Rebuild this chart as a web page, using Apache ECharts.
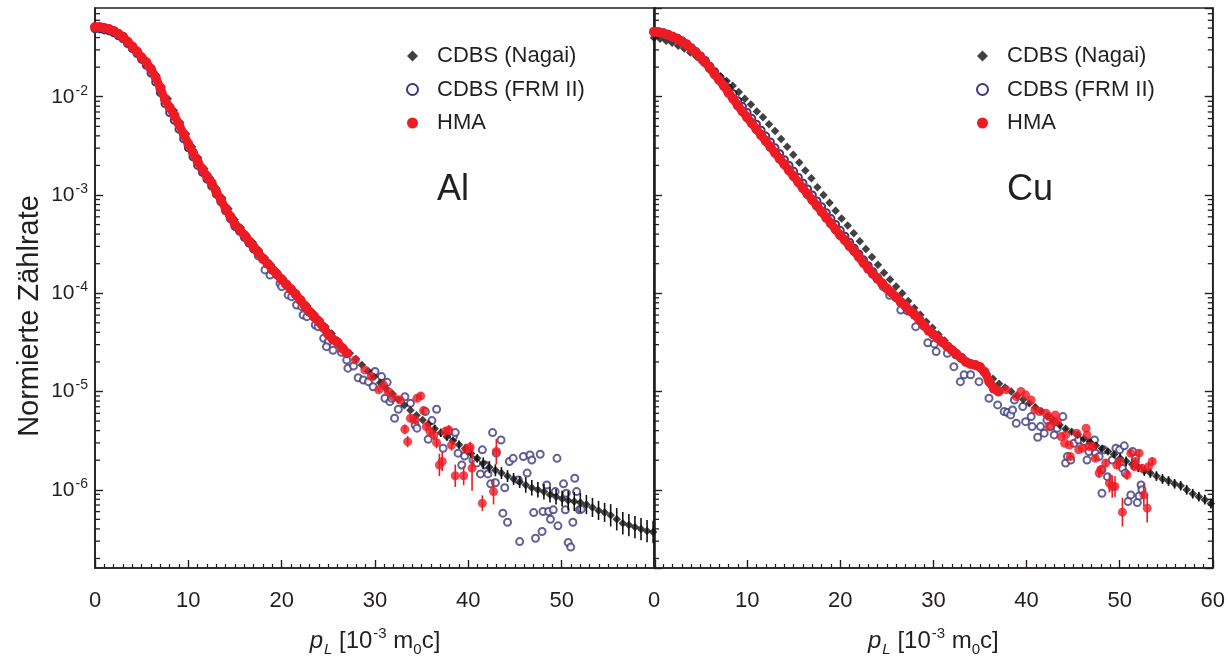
<!DOCTYPE html>
<html><head><meta charset="utf-8">
<script src="https://cdn.jsdelivr.net/npm/echarts@6/dist/echarts.min.js"></script>
<style>html,body{margin:0;padding:0;background:#fff}#c{width:1228px;height:666px}</style>
</head><body><div id="c"></div>
<script>
// ---------------- DATA ----------------
const panelNames = ['Al', 'Cu'];
const seriesNames = ['CDBS (Nagai)', 'CDBS (FRM II)', 'HMA'];
const xTicks = [0, 10, 20, 30, 40, 50, 60];
const yMinorTicks = [2e-7,3e-7,4e-7,5e-7,6e-7,7e-7,8e-7,9e-7,
  2e-6,3e-6,4e-6,5e-6,6e-6,7e-6,8e-6,9e-6,
  2e-5,3e-5,4e-5,5e-5,6e-5,7e-5,8e-5,9e-5,
  2e-4,3e-4,4e-4,5e-4,6e-4,7e-4,8e-4,9e-4,
  2e-3,3e-3,4e-3,5e-3,6e-3,7e-3,8e-3,9e-3,
  2e-2,3e-2,4e-2,5e-2,6e-2,7e-2];

// CDBS (Nagai): one point every nagaiStep in p_L
const nagaiStep = 0.65;
const alNagai = [
5.01e-2,4.90e-2,4.79e-2,4.47e-2,4.17e-2,3.80e-2,3.31e-2,2.88e-2,2.45e-2,2.09e-2,
1.66e-2,1.26e-2,9.55e-3,7.24e-3,5.50e-3,4.17e-3,3.09e-3,2.40e-3,1.86e-3,1.48e-3,
1.17e-3,9.33e-4,7.24e-4,5.62e-4,4.68e-4,3.89e-4,3.31e-4,2.75e-4,2.29e-4,1.95e-4,
1.66e-4,1.41e-4,1.20e-4,1.02e-4,8.71e-5,7.41e-5,6.31e-5,5.37e-5,4.57e-5,3.89e-5,
3.31e-5,2.82e-5,2.45e-5,2.14e-5,1.86e-5,1.62e-5,1.41e-5,1.23e-5,1.07e-5,9.55e-6,
8.32e-6,7.24e-6,6.46e-6,5.75e-6,5.13e-6,4.68e-6,4.17e-6,3.80e-6,3.47e-6,3.16e-6,
2.88e-6,2.63e-6,2.34e-6,2.09e-6,1.86e-6,1.70e-6,1.58e-6,1.48e-6,1.38e-6,1.29e-6,
1.20e-6,1.12e-6,1.05e-6,1.00e-6,9.55e-7,8.91e-7,8.51e-7,8.13e-7,7.76e-7,7.59e-7,
7.41e-7,7.08e-7,6.61e-7,6.17e-7,5.89e-7,5.50e-7,5.01e-7,4.57e-7,4.37e-7,4.17e-7,
3.98e-7,3.80e-7,3.72e-7];
// relative error (bar from v/(1+e) to v*(1+e))
const alNagaiErr = [
0,0,0,0,0,0,0,0,0,0, 0,0,0,0,0,0,0,0,0,0, 0,0,0,0,0,0,0,0,0,0,
0,0,0,0,0,0,0,0,0,0, 0,0,0,0,0,0,0,0,0,0, 0,0,0,0,0,0,
0.1,0.1,0.1,0.1,0.1,0.1,0.1,0.1,
0.15,0.15,0.15,0.15,0.15,0.15,0.15,
0.2,0.2,0.2,0.2,0.2,0.2,0.2,
0.25,0.25,0.25,0.25,0.25,0.25,0.25,
0.3,0.3,0.3,0.3,0.3,0.3,0.3,0.3];
const cuNagai = [
3.98e-2,3.89e-2,3.72e-2,3.55e-2,3.31e-2,3.09e-2,2.82e-2,2.57e-2,2.24e-2,2.04e-2,
1.82e-2,1.62e-2,1.45e-2,1.29e-2,1.12e-2,9.55e-3,8.32e-3,7.08e-3,6.17e-3,5.25e-3,
4.47e-3,3.72e-3,3.09e-3,2.57e-3,2.14e-3,1.78e-3,1.48e-3,1.20e-3,1.00e-3,8.32e-4,
6.92e-4,5.75e-4,4.90e-4,4.07e-4,3.39e-4,2.82e-4,2.34e-4,1.95e-4,1.62e-4,1.38e-4,
1.17e-4,1.00e-4,8.32e-5,7.08e-5,6.03e-5,5.13e-5,4.47e-5,3.80e-5,3.31e-5,2.82e-5,
2.51e-5,2.24e-5,2.00e-5,1.82e-5,1.66e-5,1.51e-5,1.35e-5,1.20e-5,1.10e-5,1.00e-5,
9.12e-6,8.32e-6,7.59e-6,6.92e-6,6.31e-6,5.62e-6,5.13e-6,4.57e-6,4.17e-6,3.89e-6,
3.63e-6,3.31e-6,3.09e-6,2.82e-6,2.63e-6,2.45e-6,2.29e-6,2.09e-6,1.95e-6,1.82e-6,
1.70e-6,1.55e-6,1.48e-6,1.38e-6,1.29e-6,1.23e-6,1.15e-6,1.10e-6,1.00e-6,9.12e-7,
8.51e-7,7.94e-7,7.24e-7];
const cuNagaiErr = [
0,0,0,0,0,0,0,0,0,0, 0,0,0,0,0,0,0,0,0,0, 0,0,0,0,0,0,0,0,0,0,
0,0,0,0,0,0,0,0,0,0, 0,0,0,0,0,0,0,0,0,0, 0,0,0,0,0,0,0,0,0,0, 0,0,
0.06,0.06,0.06,0.06,0.06,0.06,0.06,0.06,0.06,0.06,0.06,0.06,0.06,0.06,0.06,
0.12,0.12,0.12,0.12,0.12,0.12,0.12,0.12,0.12,0.12,0.12,0.12,0.12,0.12,0.12,0.12];

// dense parts of HMA and CDBS (FRM II): one point every denseStep in p_L
const denseStep = 0.5;
const alHmaDense = [
5.13e-2,5.13e-2,5.01e-2,4.90e-2,4.68e-2,4.37e-2,4.07e-2,3.63e-2,3.24e-2,2.88e-2,
2.51e-2,2.24e-2,1.91e-2,1.58e-2,1.23e-2,9.33e-3,7.76e-3,6.46e-3,5.25e-3,4.17e-3,
3.31e-3,2.69e-3,2.19e-3,1.82e-3,1.55e-3,1.32e-3,1.07e-3,8.91e-4,7.24e-4,6.03e-4,
5.01e-4,4.47e-4,3.89e-4,3.39e-4,2.95e-4,2.57e-4,2.24e-4,2.00e-4,1.74e-4,1.55e-4,
1.38e-4,1.23e-4,1.10e-4,9.77e-5,8.51e-5,7.41e-5,6.46e-5,5.75e-5,5.13e-5,4.47e-5,
3.80e-5,3.39e-5,3.16e-5,2.75e-5,2.45e-5];
const alFrmDense = [
4.90e-2,4.90e-2,4.79e-2,4.68e-2,4.47e-2,4.17e-2,3.89e-2,3.47e-2,3.09e-2,2.75e-2,
2.40e-2,2.09e-2,1.74e-2,1.41e-2,1.10e-2,8.51e-3,6.92e-3,5.75e-3,4.68e-3,3.72e-3,
3.02e-3,2.45e-3,2.00e-3,1.70e-3,1.45e-3,1.23e-3,1.02e-3,8.51e-4,6.92e-4,5.75e-4,
4.79e-4,4.27e-4,3.72e-4,3.24e-4,2.82e-4];
const cuHmaDense = [
4.57e-2,4.52e-2,4.42e-2,4.27e-2,4.07e-2,3.89e-2,3.63e-2,3.39e-2,3.09e-2,2.82e-2,
2.51e-2,2.24e-2,1.95e-2,1.70e-2,1.48e-2,1.29e-2,1.10e-2,9.55e-3,8.13e-3,7.08e-3,
6.17e-3,5.37e-3,4.68e-3,4.07e-3,3.55e-3,3.09e-3,2.69e-3,2.34e-3,2.04e-3,1.78e-3,
1.55e-3,1.35e-3,1.17e-3,1.02e-3,8.91e-4,7.76e-4,6.76e-4,5.89e-4,5.13e-4,4.47e-4,
3.89e-4,3.47e-4,3.02e-4,2.69e-4,2.34e-4,2.04e-4,1.78e-4,1.58e-4,1.41e-4,1.26e-4,
1.12e-4,1.02e-4,9.12e-5,8.13e-5,7.41e-5,6.61e-5,6.03e-5,5.37e-5,4.68e-5,4.17e-5,
3.80e-5,3.47e-5,3.16e-5,2.88e-5,2.63e-5,2.40e-5,2.19e-5,2.00e-5,1.91e-5,1.86e-5,
1.78e-5,1.58e-5,1.26e-5,1.07e-5,1.00e-5];
const cuFrmDense = [
4.62e-2,4.57e-2,4.47e-2,4.32e-2,4.12e-2,3.94e-2,3.72e-2,3.47e-2,3.16e-2,2.88e-2,
2.60e-2,2.34e-2,2.04e-2,1.80e-2,1.58e-2,1.41e-2,1.23e-2,1.07e-2,9.12e-3,7.94e-3,
6.92e-3,6.03e-3,5.25e-3,4.57e-3,3.98e-3,3.47e-3,3.02e-3,2.63e-3,2.29e-3,2.00e-3,
1.74e-3,1.51e-3,1.32e-3,1.15e-3,1.00e-3,8.71e-4,7.59e-4,6.61e-4,5.75e-4,5.01e-4,
4.37e-4,3.80e-4,3.31e-4,2.88e-4,2.51e-4,2.19e-4,1.91e-4,1.66e-4,1.45e-4];

// scattered tail points
const alFrmP = [17.5,18.21,18.75,19.82,20.0,20.7,21.07,21.6,22.15,22.3,22.7,23.6,23.9,24.5,25.0,24.8,25.5,26.4,26.97,27.1,
27.7,28.2,28.75,29.3,29.8,29.8,30.0,30.7,30.9,31.07,31.3,31.6,31.8,32.1,32.5,33.2,33.8,34.3,34.5,35.4,
35.7,36.1,36.6,37.3,37.9,38.4,38.6,38.9,39.3,39.6,40.5,40.9,41.3,41.5,41.8,42.1,42.4,42.6,42.9,43.0,
43.5,43.7,43.9,44.2,44.4,44.8,45.35,45.5,45.9,46.3,46.6,46.8,47.0,47.2,47.7,47.9,48.0,48.4,48.6,48.8,
49.1,49.3,49.5,49.6,50.2,50.4,50.5,50.7,50.97,51.2,51.4,51.6,51.9,52.1];
const alFrmV = [2.40e-4,1.73e-4,1.53e-4,1.26e-4,1.17e-4,9.62e-5,9.23e-5,7.60e-5,7.31e-5,6.01e-5,5.78e-5,4.75e-5,4.57e-5,3.48e-5,3.22e-5,2.86e-5,2.63e-5,2.51e-5,2.09e-5,1.73e-5,
1.82e-5,1.38e-5,1.31e-5,1.26e-5,1.53e-5,1.12e-5,1.60e-5,1.42e-5,1.21e-5,8.55e-6,1.24e-5,7.89e-6,8.55e-6,5.35e-6,6.61e-6,8.87e-6,7.60e-6,4.57e-6,4.24e-6,6.25e-6,
3.27e-6,5.06e-6,6.61e-6,2.65e-6,3.91e-6,3.48e-6,3.82e-6,2.36e-6,1.79e-6,2.21e-6,2.01e-6,1.87e-6,1.45e-6,2.55e-6,1.79e-6,1.45e-6,1.15e-6,3.82e-6,1.18e-6,2.36e-6,
3.21e-6,5.78e-7,1.05e-6,4.68e-7,1.94e-6,2.09e-6,1.26e-6,2.97e-7,2.18e-6,1.48e-6,2.26e-6,2.01e-6,5.86e-7,3.21e-7,2.30e-6,3.76e-7,6.01e-7,1.12e-6,6.01e-7,5.01e-7,
6.25e-7,9.59e-7,2.09e-6,4.30e-7,1.15e-6,6.25e-7,9.23e-7,2.90e-7,2.61e-7,4.68e-7,1.31e-6,9.59e-7,6.25e-7,6.35e-7];
const alHmaP = [27.9,28.9,29.6,30.4,30.9,31.4,31.96,32.7,33.2,33.5,33.8,34.3,34.5,34.9,35.2,35.5,35.9,36.3,36.6,36.9,
37.2,37.5,37.9,38.2,38.6,39.5,39.8,40.2,40.4,41.5,42.7,43.0];
const alHmaV = [2.10e-5,1.66e-5,1.42e-5,1.04e-5,1.17e-5,1.00e-5,8.87e-6,8.20e-6,4.13e-6,3.09e-6,5.35e-6,5.14e-6,8.55e-6,9.02e-6,6.40e-6,4.40e-6,3.91e-6,3.61e-6,3.02e-6,1.79e-6,
1.94e-6,3.91e-6,4.06e-6,2.86e-6,1.39e-6,1.39e-6,2.59e-6,2.71e-6,1.66e-6,7.31e-7,9.59e-7,2.45e-6];
const alHmaErr = [0,0,0,0.05,0.05,0.05,0.05,0.06,0.12,0.14,0.1,0.1,0.08,0.08,0.1,0.12,0.12,0.12,0.14,0.3,
0.25,0.12,0.12,0.14,0.3,0.25,0.14,0.14,0.7,0.2,0.35,0.35];
const cuFrmP = [24.6,25.3,26.5,27.2,28.1,28.5,29.4,30.1,30.3,31.5,32.2,32.4,32.9,33.3,34.0,34.9,35.97,36.9,37.6,37.96,
38.3,38.5,38.7,38.9,39.6,39.9,40.5,40.6,41.2,41.5,41.9,42.2,42.6,42.97,43.3,43.9,44.2,44.4,44.75,45.1,
45.6,46.2,46.5,46.7,47.3,47.4,47.8,48.1,48.3,48.7,48.1,49.2,49.6,50.0,50.5,50.3,50.6,50.9,51.2,51.4,
51.7,51.9,52.1,52.3,52.4];
const cuFrmV = [1.17e-4,9.55e-5,6.76e-5,6.61e-5,4.57e-5,5.35e-5,3.14e-5,3.05e-5,2.55e-5,2.45e-5,1.79e-5,2.36e-5,1.26e-5,1.48e-5,1.48e-5,1.26e-5,8.55e-6,7.31e-6,6.25e-6,6.11e-6,
5.78e-6,6.50e-6,8.20e-6,4.75e-6,7.03e-6,4.94e-6,5.56e-6,4.40e-6,3.43e-6,4.40e-6,3.77e-6,5.14e-6,4.40e-6,3.62e-6,4.24e-6,5.56e-6,1.87e-6,2.18e-6,2.01e-6,2.98e-6,
3.21e-6,3.10e-6,2.01e-6,2.45e-6,3.21e-6,2.36e-6,2.18e-6,1.60e-6,2.55e-6,1.36e-6,9.23e-7,2.01e-6,2.65e-6,2.55e-6,2.80e-6,1.66e-6,1.48e-6,7.59e-7,8.87e-7,2.45e-6,
2.09e-6,7.41e-7,8.67e-7,1.12e-6,1.00e-6];
const cuHmaP = [37.8,38.9,39.4,39.9,40.5,40.9,41.4,42.1,42.4,43.1,42.97,42.4,43.3,43.7,44.1,44.6,44.2,44.7,45.4,45.6,
46.0,46.4,46.5,46.7,47.1,47.4,47.8,47.97,48.5,48.9,49.2,49.5,49.7,50.0,50.3,50.8,51.2,51.6,51.7,52.1,
52.4,52.6,52.96,53.1,53.5];
const cuHmaV = [1.04e-5,8.87e-6,1.00e-5,9.25e-6,8.20e-6,6.50e-6,6.25e-6,6.01e-6,5.56e-6,5.78e-6,4.94e-6,4.40e-6,4.94e-6,3.48e-6,2.98e-6,2.86e-6,3.62e-6,2.18e-6,3.77e-6,2.55e-6,
2.65e-6,4.24e-6,3.62e-6,2.75e-6,2.75e-6,2.09e-6,1.48e-6,1.60e-6,1.87e-6,1.17e-6,1.08e-6,1.08e-6,1.79e-6,1.94e-6,5.92e-7,1.42e-6,2.36e-6,1.72e-6,1.94e-6,2.36e-6,
1.66e-6,8.87e-7,6.50e-7,1.72e-6,1.94e-6];
const cuHmaErr = [0,0,0,0,0,0,0,0,0,0,0,0,0,0,0,0,0,0.08,0,0,
0,0,0,0,0,0.08,0.12,0.1,0.1,0.25,0.3,0.28,0.1,0.1,0.4,0.12,0.08,0.1,0.1,0.08,
0.1,0.3,0.4,0.1,0.1];

// ---------------- STYLE ----------------
const FONT = '"Liberation Sans", Arial, Helvetica, sans-serif';
const AX = '#231f20';
const RED = '#ec1c24';
const BLUE = '#3b3a7c';
const BLACK = '#111111';

const stepPairs = (step, vals) => vals.map((v, i) => [Math.round(i * step * 100) / 100, v]);
const stepTriples = (step, vals, errs) => vals.map((v, i) => [Math.round(i * step * 100) / 100, v, errs[i]]);
const zip = (ps, vs) => ps.map((p, i) => [p, vs[i]]);
const zip3 = (ps, vs, es) => ps.map((p, i) => [p, vs[i], es[i]]);

function errRender(color) {
  return function (params, api) {
    const x = api.value(0), v = api.value(1), e = api.value(2);
    if (!e) return null;
    const a = api.coord([x, v * (1 + e)]), b = api.coord([x, v / (1 + e)]);
    return {type: 'line', shape: {x1: a[0], y1: a[1], x2: b[0], y2: b[1]},
            style: {stroke: color, lineWidth: 1.6}};
  };
}
function minorRender(right) {
  return function (params, api) {
    const y = api.coord([api.value(0), api.value(1)])[1];
    const cs = params.coordSys;
    const kids = [{type: 'line', shape: {x1: cs.x, y1: y, x2: cs.x + 5, y2: y}, style: {stroke: AX, lineWidth: 1.3}}];
    if (right) kids.push({type: 'line', shape: {x1: cs.x + cs.width, y1: y, x2: cs.x + cs.width - 5, y2: y}, style: {stroke: AX, lineWidth: 1.3}});
    return {type: 'group', children: kids};
  };
}
function powFmt(v) {
  const e = Math.log10(v), r = Math.round(e);
  if (Math.abs(e - r) > 1e-6) return '';
  return '{b|10}{s|' + r + '}';
}

const panels = [
  {nagai: alNagai, nagaiErr: alNagaiErr, hmaDense: alHmaDense, frmDense: alFrmDense,
   frmP: alFrmP, frmV: alFrmV, hmaP: alHmaP, hmaV: alHmaV, hmaErr: alHmaErr},
  {nagai: cuNagai, nagaiErr: cuNagaiErr, hmaDense: cuHmaDense, frmDense: cuFrmDense,
   frmP: cuFrmP, frmV: cuFrmV, hmaP: cuHmaP, hmaV: cuHmaV, hmaErr: cuHmaErr}
];
const yIdx = [0, 1];

const series = [];
panels.forEach((d, k) => {
  const ax = {xAxisIndex: k, yAxisIndex: yIdx[k]};
  series.push(Object.assign({type: 'custom', name: 'minor' + k, silent: true, z: 1,
    renderItem: minorRender(k === 1), data: yMinorTicks.map(v => [xTicks[0], v])}, ax));
  series.push(Object.assign({type: 'line', name: seriesNames[1], z: 2, data: stepPairs(denseStep, d.frmDense),
    symbol: 'emptyCircle', symbolSize: 7, showSymbol: true, lineStyle: {color: BLUE, width: 1.2},
    itemStyle: {color: BLUE, borderColor: BLUE, borderWidth: 1.4}}, ax));
  series.push(Object.assign({type: 'scatter', name: seriesNames[1], z: 2, data: zip(d.frmP, d.frmV),
    symbol: 'emptyCircle', symbolSize: 7, itemStyle: {color: BLUE, borderColor: BLUE, borderWidth: 1.5}}, ax));
  series.push(Object.assign({type: 'custom', name: 'nagaiErr' + k, z: 3, silent: true,
    dimensions: ['p', 'v', 'e'], encode: {x: 'p', y: 'v'},
    renderItem: errRender(BLACK), data: stepTriples(nagaiStep, d.nagai, d.nagaiErr)}, ax));
  series.push(Object.assign({type: 'scatter', name: seriesNames[0], z: 3, data: stepPairs(nagaiStep, d.nagai),
    symbol: 'diamond', symbolSize: 8.5, itemStyle: {color: BLACK}}, ax));
  series.push(Object.assign({type: 'line', name: seriesNames[2], z: 4, data: stepPairs(denseStep, d.hmaDense),
    symbol: 'circle', symbolSize: 10, showSymbol: true, lineStyle: {color: RED, width: 8.5},
    itemStyle: {color: RED}}, ax));
  series.push(Object.assign({type: 'custom', name: 'hmaErr' + k, z: 4, silent: true,
    dimensions: ['p', 'v', 'e'], encode: {x: 'p', y: 'v'},
    renderItem: errRender(RED), data: zip3(d.hmaP, d.hmaV, d.hmaErr)}, ax));
  series.push(Object.assign({type: 'scatter', name: seriesNames[2], z: 4, data: zip(d.hmaP, d.hmaV),
    symbol: 'circle', symbolSize: 9, itemStyle: {color: RED}}, ax));
});

const axisLine = {show: true, onZero: false, lineStyle: {color: AX, width: 1.6}};
const tickStyle = {color: AX, width: 1.4};
const xName = '{i|p}{sb|L}{t| [10}{sp|-3}{t| m}{s0|0}{t|c]}';
const xNameStyle = {color: AX, fontFamily: FONT, fontSize: 24,
  rich: {
    i: {fontFamily: FONT, fontSize: 24, fontStyle: 'italic', color: AX},
    t: {fontFamily: FONT, fontSize: 24, color: AX},
    sb: {fontFamily: FONT, fontSize: 15, fontStyle: 'italic', color: AX, padding: [16, 0, 0, 1]},
    s0: {fontFamily: FONT, fontSize: 15, color: AX, padding: [16, 0, 0, 0]},
    sp: {fontFamily: FONT, fontSize: 15, color: AX, padding: [0, 0, 16, 1]}
  }};
function xAxis(k) {
  return {gridIndex: k, type: 'value', min: xTicks[0], max: xTicks[xTicks.length - 1], interval: 10,
    axisLine: axisLine, axisTick: {show: true, inside: true, length: 8, lineStyle: tickStyle},
    minorTick: {show: true, splitNumber: 10, length: 4, lineStyle: {color: AX, width: 1.2}},
    splitLine: {show: false}, minorSplitLine: {show: false},
    axisLabel: {margin: 22, fontSize: 22, fontFamily: FONT, color: AX, showMaxLabel: k === 1, showMinLabel: true},
    name: xName, nameLocation: 'middle', nameGap: 58, nameTextStyle: xNameStyle};
}
function yAxis(k, pos, labels) {
  return {gridIndex: k, type: 'log', logBase: 10, min: 1.6e-7, max: 8e-2, position: pos,
    axisLine: axisLine, axisTick: {show: true, inside: true, length: 8, lineStyle: tickStyle},
    splitLine: {show: false},
    axisLabel: {show: labels, margin: 7, formatter: powFmt, showMinLabel: false, showMaxLabel: false,
      rich: {b: {fontFamily: FONT, fontSize: 21, color: AX},
             s: {fontFamily: FONT, fontSize: 14, color: AX, padding: [0, 0, 12, 1]}}}};
}
const legendData = [{name: seriesNames[0], icon: 'diamond'}, {name: seriesNames[1], icon: 'emptyCircle'}, {name: seriesNames[2], icon: 'circle'}];
function legend(left) {
  return {orient: 'vertical', left: left, top: 40, itemWidth: 11, itemHeight: 11, itemGap: 11.5,
    selectedMode: false, data: legendData,
    textStyle: {fontFamily: FONT, fontSize: 22, color: AX, lineHeight: 22, padding: [0, 0, 0, 14]}};
}

const option = {
  animation: false,
  backgroundColor: '#fff',
  grid: [
    {left: 95, top: 8, width: 560, height: 560, show: true, borderColor: AX, borderWidth: 1.6, backgroundColor: 'transparent'},
    {left: 654, top: 8, width: 560, height: 560, show: true, borderColor: AX, borderWidth: 1.6, backgroundColor: 'transparent'}
  ],
  xAxis: [xAxis(0), xAxis(1)],
  yAxis: [yAxis(0, 'left', true), yAxis(1, 'left', false), yAxis(1, 'right', false)],
  legend: [legend(401), legend(971)],
  graphic: [
    {type: 'text', x: 30, y: 316, rotation: Math.PI / 2,
     style: {text: 'Normierte Zählrate', fontFamily: FONT, fontSize: 29, fill: AX, align: 'center', verticalAlign: 'middle'}},
    {type: 'text', x: 453, y: 190, style: {text: panelNames[0], fontFamily: FONT, fontSize: 36, fill: AX, align: 'center', verticalAlign: 'middle'}},
    {type: 'text', x: 1030, y: 190, style: {text: panelNames[1], fontFamily: FONT, fontSize: 36, fill: AX, align: 'center', verticalAlign: 'middle'}}
  ],
  series: series
};
const chart = echarts.init(document.getElementById('c'), null, {renderer: 'canvas'});
chart.setOption(option);
</script></body></html>
